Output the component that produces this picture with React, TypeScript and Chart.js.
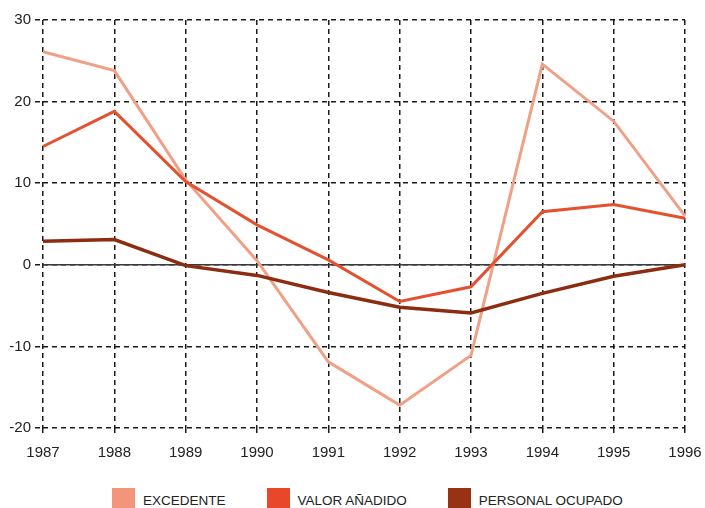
import React, { useEffect, useRef } from "react";
import { Chart, registerables } from "chart.js";

Chart.register(...registerables);

const years = ["1987", "1988", "1989", "1990", "1991", "1992", "1993", "1994", "1995", "1996"];
const excedente = [26.1, 23.8, 10.4, 0.5, -11.9, -17.2, -11.1, 24.6, 17.6, 6.0];
const valorAnadido = [14.5, 18.8, 10.2, 4.9, 0.6, -4.5, -2.7, 6.5, 7.4, 5.7];
const personalOcupado = [2.9, 3.1, -0.1, -1.3, -3.4, -5.2, -5.9, -3.5, -1.4, 0.0];
const zeroLine = [0, 0, 0, 0, 0, 0, 0, 0, 0, 0];
const yTicks = [-20, -10, 0, 10, 20, 30];

const seriesNames = ["EXCEDENTE", "VALOR AÑADIDO", "PERSONAL OCUPADO"];
const lineColors = ["#f0a086", "#e5502f", "#8c2d12"];
const legendColors = ["#f3957a", "#e8472a", "#983214"];

const FONT = "'Liberation Sans', Arial, Helvetica, sans-serif";

export default function App() {
  const canvasRef = useRef<HTMLCanvasElement | null>(null);

  useEffect(() => {
    document.body.style.margin = "0";
    const ctx = canvasRef.current!;
    const chart = new Chart(ctx, {
      type: "line",
      data: {
        labels: years,
        datasets: [
          {
            label: seriesNames[0],
            data: excedente,
            borderColor: lineColors[0],
            borderWidth: 3,
            pointRadius: 0,
            tension: 0,
            order: 3,
          },
          {
            label: seriesNames[1],
            data: valorAnadido,
            borderColor: lineColors[1],
            borderWidth: 3,
            pointRadius: 0,
            tension: 0,
            order: 2,
          },
          {
            label: seriesNames[2],
            data: personalOcupado,
            borderColor: lineColors[2],
            borderWidth: 3.5,
            pointRadius: 0,
            tension: 0,
            order: 1,
          },
          {
            label: "zero",
            data: zeroLine,
            borderColor: "#3a3a3a",
            borderWidth: 1.5,
            pointRadius: 0,
            tension: 0,
            order: 10,
          },
        ],
      },
      options: {
        animation: false,
        responsive: false,
        maintainAspectRatio: false,
        layout: { padding: { top: 20, right: 20, left: 0, bottom: 0 } },
        plugins: {
          legend: { display: false },
          tooltip: { enabled: false },
        },
        scales: {
          x: {
            type: "category",
            offset: false,
            border: { display: false, dash: [5, 4] },
            grid: {
              color: "#1a1a1a",
              lineWidth: 1.5,
              tickLength: 8,
              tickColor: "#1a1a1a",
              tickBorderDash: [5, 4],
            },
            ticks: {
              color: "#222",
              font: { family: FONT, size: 15 },
              padding: 8,
              maxRotation: 0,
            },
            afterFit: (scale: any) => {
              scale.height = 42;
              scale.paddingLeft = 0;
              scale.paddingRight = 0;
            },
          },
          y: {
            min: -20,
            max: 30,
            border: { display: false, dash: [5, 4] },
            grid: {
              color: "#1a1a1a",
              lineWidth: 1.5,
              tickLength: 8,
              tickColor: "#1a1a1a",
              tickBorderDash: [5, 4],
            },
            afterBuildTicks: (scale: any) => {
              scale.ticks = yTicks.map((v) => ({ value: v }));
            },
            ticks: {
              color: "#222",
              font: { family: FONT, size: 15 },
              padding: 4,
            },
            afterFit: (scale: any) => {
              scale.width = 43;
              scale.paddingTop = 0;
              scale.paddingBottom = 0;
            },
          },
        },
      },
    });
    return () => chart.destroy();
  }, []);

  return (
    <div style={{ position: "relative", width: 705, height: 508, overflow: "hidden", background: "#ffffff" }}>
      <canvas ref={canvasRef} width={705} height={470} style={{ position: "absolute", left: 0, top: 0 }} />
      <div
        style={{
          position: "absolute",
          left: 112,
          top: 488,
          display: "flex",
          alignItems: "flex-start",
          fontFamily: FONT,
          fontSize: 13.5,
          color: "#222",
        }}
      >
        {seriesNames.map((n, i) => (
          <div key={n} style={{ display: "flex", alignItems: "flex-start", marginRight: i < 2 ? 41 : 0 }}>
            <div style={{ width: 23, height: 24, background: legendColors[i], marginRight: 8 }} />
            <div style={{ marginTop: 5, whiteSpace: "nowrap" }}>{n}</div>
          </div>
        ))}
      </div>
    </div>
  );
}
